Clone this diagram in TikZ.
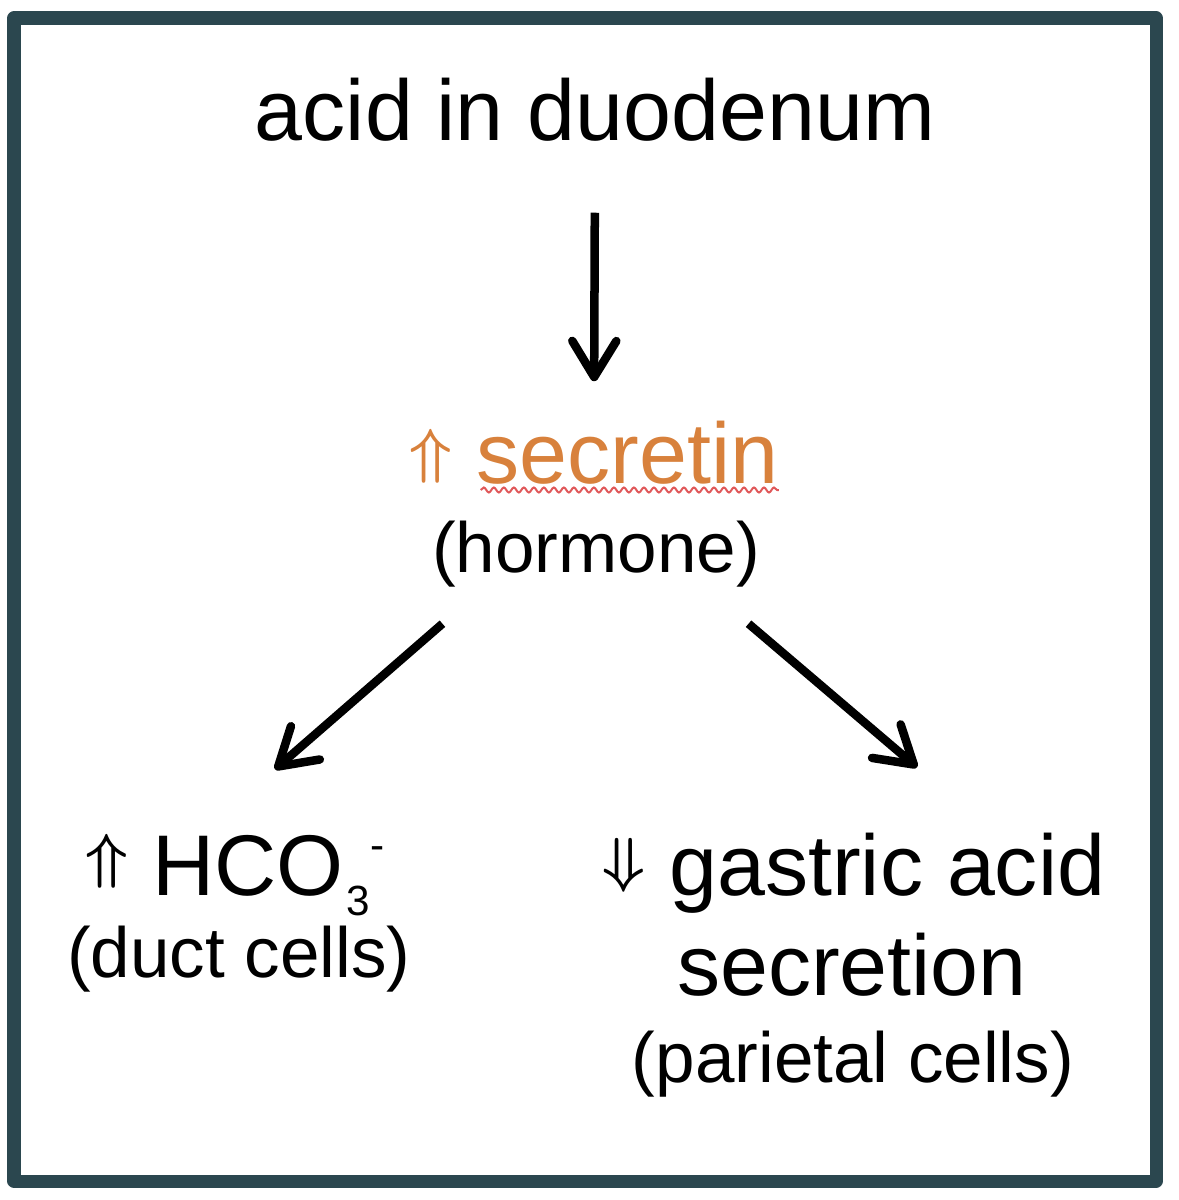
\documentclass[tikz,border=0pt]{standalone}
\usepackage{fontspec}
\setmainfont{Liberation Sans}
\usetikzlibrary{arrows.meta,decorations.pathmorphing}

\definecolor{framegray}{HTML}{2B474F}
\definecolor{secorange}{HTML}{D8813C}
\definecolor{spellred}{HTML}{E0585A}

\newcommand{\bigtxt}{\fontsize{24.5}{29}\selectfont}
\newcommand{\smalltxt}{\fontsize{20.2}{24}\selectfont}
\newcommand{\upmark}[1]{\raisebox{#1}{\fontsize{17}{17}\selectfont\boldmath$\Uparrow$}}
\newcommand{\downmark}[1]{\raisebox{#1}{\fontsize{17}{17}\selectfont\boldmath$\Downarrow$}}

\tikzset{
  bigtext/.style={font=\bigtxt, inner sep=0pt, anchor=base,
                  text height=0.62cm, text depth=0.18cm},
  smalltext/.style={font=\smalltxt, inner sep=0pt, anchor=base,
                    text height=0.52cm, text depth=0.15cm},
  arr/.style={line width=0.085cm,
              -{Straight Barb[length=0.36cm,width=0.44cm,round]}},
  frame/.style={draw=framegray, line width=0.13cm, line join=round}
}

\begin{document}
\begin{tikzpicture}[x=0.01cm,y=-0.01cm]
      \useasboundingbox (0,0) rectangle (1178,1200);
      \draw[frame] (14,18) rectangle (1156,1181);

      % top
      \node[bigtext] (acid) at (595,140) {acid in duodenum};
      \node[bigtext,text=secorange] (secretin) at (594,483) {\upmark{0.12cm}\ secretin};
      \node[smalltext] (hormone) at (596,572) {(hormone)};
      \draw[spellred, line width=0.02cm,
            decorate, decoration={snake, amplitude=0.025cm, segment length=0.1cm}]
        ([xshift=-2.98cm,yshift=-0.07cm]secretin.base east) -- ([yshift=-0.07cm]secretin.base east);

      % left
      \node[bigtext] (hco) at (235,895)
        {\upmark{0.19cm}\ HCO\kern0.03cm\raisebox{-0.2cm}{\fontsize{12}{12}\selectfont 3}\raisebox{0.35cm}{\fontsize{12}{12}\selectfont -}};
      \node[smalltext] (duct) at (239,977) {(duct cells)};

      % right
      \node[bigtext] (gastric) at (854,895) {\downmark{0.15cm}\ gastric acid};
      \node[bigtext] (secretion) at (852,995) {secretion};
      \node[smalltext] (parietal) at (853,1082) {(parietal cells)};

      \draw[arr, shorten <=0.54cm, shorten >=0.39cm] (acid.south) -- (secretin.north);
      \draw[arr] ([shift={(11,36)}]hormone.south west) -- ([shift={(40,-63)}]hco.north);
      \draw[arr] ([shift={(-12,36)}]hormone.south east) -- ([shift={(63,-65)}]gastric.north);
    \end{tikzpicture}
\end{document}
